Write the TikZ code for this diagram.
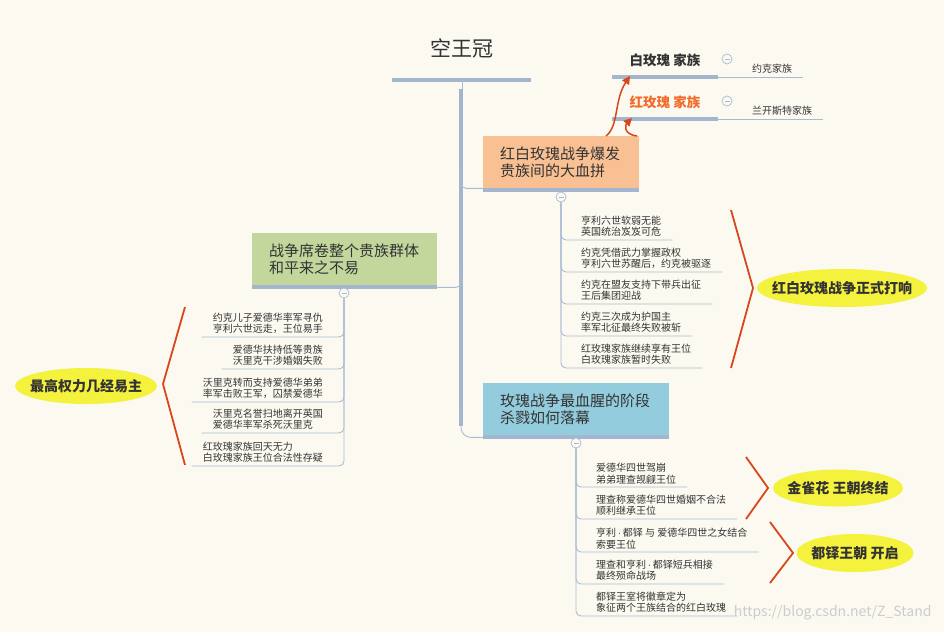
\documentclass[tikz,border=0pt]{standalone}
\usepackage{fontspec}
\newfontfamily\cjk{Noto Sans CJK SC}
\newfontfamily\latin{Liberation Sans}
\usetikzlibrary{arrows.meta,shapes.geometric}
\definecolor{paper}{HTML}{FCF9F1}
\definecolor{stem}{HTML}{A3B5CF}
\definecolor{twigc}{HTML}{A9BBD4}
\definecolor{peach}{HTML}{F9C193}
\definecolor{sage}{HTML}{C3D69C}
\definecolor{sky}{HTML}{93CDDD}
\definecolor{marker}{HTML}{F4F23C}
\definecolor{brick}{HTML}{D9461C}
\definecolor{rose}{HTML}{F26B2A}
\definecolor{ink}{HTML}{333333}
\newcommand{\dotsep}{\,{\latin ·}\,}

\begin{document}
\begin{tikzpicture}[x=1pt, y=-1pt, every node/.style={font=\cjk, text=ink},
	bar/.style={stem, line width=4.5pt},
	twig/.style={twigc, line width=0.9pt, rounded corners=5pt},
	topic/.style={minimum height=52pt, inner xsep=17pt, align=left, anchor=north west, font=\cjk\fontsize{15}{17}\selectfont},
	item/.style={inner xsep=11pt, inner ysep=3pt, align=left, font=\cjk\fontsize{10}{11.5}\selectfont},
	family/.style={font=\cjk\bfseries\fontsize{13.5}{16}\selectfont},
	fold/.style={circle, draw=twigc, fill=paper, line width=0.7pt, minimum size=10pt, inner sep=0pt,
		path picture={\draw[twigc, line width=0.8pt] ([xshift=2.5pt]path picture bounding box.west) -- ([xshift=-2.5pt]path picture bounding box.east);}},
	note/.style={ellipse, fill=marker, inner xsep=-14pt, inner ysep=0pt, font=\cjk\bfseries\fontsize{14}{16}\selectfont},
	brace/.style={brick, line width=1.8pt},
	rosearrow/.style={brick, line width=1.5pt, -{Triangle[length=8pt, width=8pt]}}]
	\fill[paper] (0,0) rectangle (944,632);
	\useasboundingbox (0,0) rectangle (944,632);
	\node[font=\cjk\fontsize{21}{24}\selectfont] (crown) at (462,48) {空王冠};
	\draw[bar] (392,80) -- (531,80);
	\coordinate (cap) at (462,80);
	\draw[twigc, line width=0.8pt] (cap) -- (462,90);
	\draw[bar] (461,89) -- (461,426);
	\node[topic, fill=peach, text width=122pt] (war) at (483,136) {红白玫瑰战争爆发\\贵族间的大血拼};
	\node[topic, fill=sage, text width=151pt] (peace) at (252,233) {战争席卷整个贵族群体\\和平来之不易};
	\node[topic, fill=sky, text width=152pt] (slaughter) at (483,383) {玫瑰战争最血腥的阶段\\杀戮如何落幕};
	\foreach \b in {war,peace,slaughter}
		\draw[stem, line width=4pt] ([yshift=-2pt]\b.south west) -- ([yshift=-2pt]\b.south east);
	\draw[twig] (461,170) |- (war.south west);
	\draw[twig] (461,270) |- ([yshift=-2pt]peace.south east);
	\draw[twig, rounded corners=10pt] (461,410) |- ([yshift=-2pt]slaughter.south west);
	\node[fold] (warfold) at (561,197) {};
	\node[fold] (peacefold) at (344,293) {};
	\node[fold] (slfold) at (576,443) {};
	\foreach \y/\t [count=\i] in {240/{亨利六世软弱无能\\英国统治岌岌可危}, 272/{约克凭借武力掌握政权\\亨利六世苏醒后，约克被驱逐},
		304/{约克在盟友支持下带兵出征\\王后集团迎战}, 336/{约克三次成为护国主\\率军北征最终失败被斩},
		368/{红玫瑰家族继续享有王位\\白玫瑰家族暂时失败}}{
		\node[item, anchor=south west] (warit\i) at (570,\y) {\t};
		\draw[twig] (warfold.south) |- (warit\i.south east);
	}
	\foreach \y/\t [count=\i] in {337/{约克儿子爱德华率军寻仇\\亨利六世远走，王位易手}, 369/{爱德华扶持低等贵族\\沃里克干涉婚姻失败},
		402/{沃里克转而支持爱德华弟弟\\率军击败王军，囚禁爱德华}, 433/{沃里克名誉扫地离开英国\\爱德华率军杀死沃里克},
		466/{红玫瑰家族回天无力\\白玫瑰家族王位合法性存疑}}{
		\node[item, anchor=south east] (peaceit\i) at (334,\y) {\t};
		\draw[twig] (peacefold.south) |- (peaceit\i.south west);
	}
	\foreach \y/\t [count=\i] in {487/{爱德华四世驾崩\\弟弟理查觊觎王位}, 519/{理查称爱德华四世婚姻不合法\\顺利继承王位},
		552/{亨利\dotsep 都铎 与 爱德华四世之女结合\\索要王位}, 584/{理查和亨利\dotsep 都铎短兵相接\\最终殒命战场},
		616/{都铎王室将徽章定为\\象征两个王族结合的红白玫瑰}}{
		\node[item, anchor=south west] (slit\i) at (585,\y) {\t};
		\draw[twig] (slfold.south) |- (slit\i.south east);
	}
	\draw[brace] (731,210) -- (753,288) -- (731,368);
	\node[note, minimum width=170pt, minimum height=38pt] (outbreak) at (842,288) {红白玫瑰战争正式打响};
	\draw[brace] (185,307) -- (163,384) -- (185,465);
	\node[note, minimum width=142pt, minimum height=36pt] (throne) at (86,386) {最高权力几经易主};
	\draw[brace] (746,457) -- (768,488) -- (746,519);
	\node[note, minimum width=130pt, minimum height=37pt] (plantagenet) at (838,488) {金雀花 王朝终结};
	\draw[brace] (770,522) -- (793,553) -- (770,583);
	\node[note, minimum width=117pt, minimum height=38pt] (tudor) at (855,553) {都铎王朝 开启};
	\node[family] (white) at (665,60) {白玫瑰 家族};
	\node[family, text=rose] (red) at (665,102) {红玫瑰 家族};
	\draw[bar] (612,77) -- (718,77);
	\draw[bar] (612,119) -- (718,119);
	\node[fold] (whitefold) at (727,59) {};
	\node[fold] (redfold) at (727,101) {};
	\node[item, anchor=south west] (york) at (741,77) {约克家族};
	\draw[twig] (718,77) -- (york.south east);
	\node[item, anchor=south west] (lancaster) at (741,119) {兰开斯特家族};
	\draw[twig] (718,119) -- (lancaster.south east);
	\draw[rosearrow] ([xshift=123pt]war.north west) .. controls (619,126) and (614,100) .. (630,76);
	\draw[rosearrow] ([xshift=154pt]war.north west) .. controls (622,134) and (626,124) .. (632,118);
	\node[font=\cjk\fontsize{14}{16}\selectfont, text=gray!40, anchor=east] (mark) at (935,613) {https://blog.csdn.net/Z\_Stand};
\end{tikzpicture}
\end{document}
